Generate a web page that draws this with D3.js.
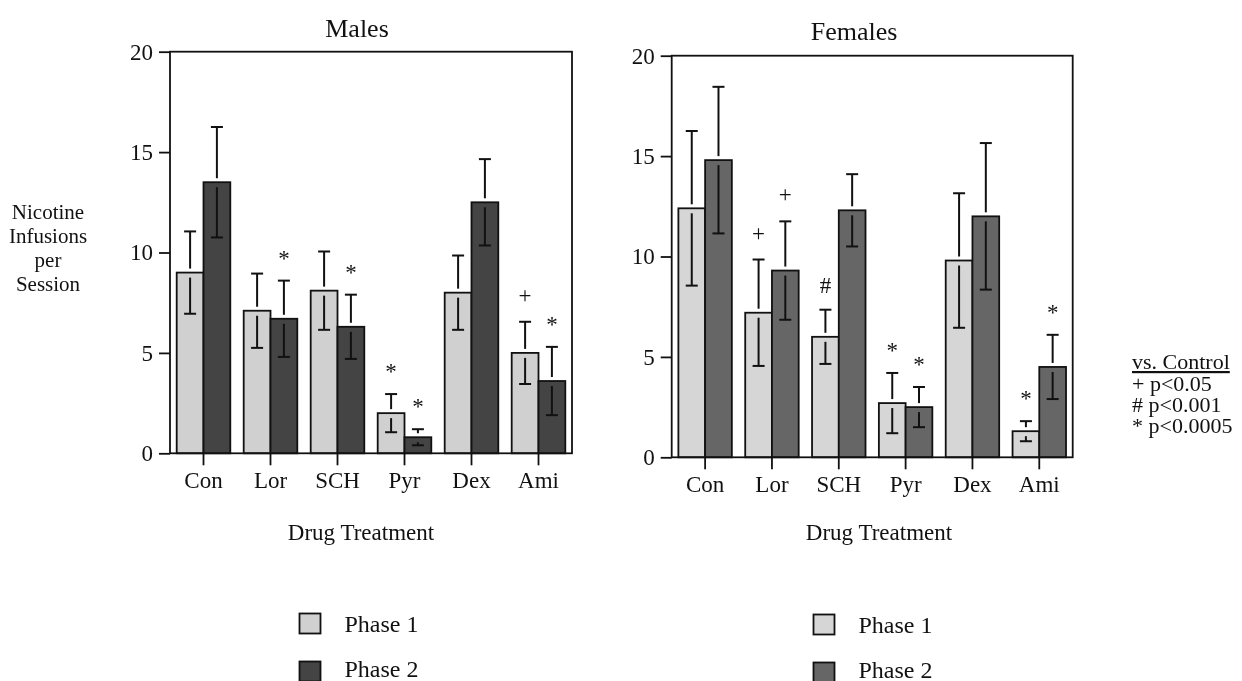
<!DOCTYPE html>
<html>
<head>
<meta charset="utf-8">
<script src="https://cdn.jsdelivr.net/npm/d3@7"></script>
<style>
  html, body { margin: 0; padding: 0; background: #fff; }
  svg { display: block; will-change: transform; }
  text { font-family: "Liberation Serif", "Times New Roman", serif; fill: #111; }
</style>
</head>
<body>
<svg id="chart" width="1242" height="681"></svg>
<script>
// Drug treatments shown on the x axis
const categories = ["Con", "Lor", "SCH", "Pyr", "Dex", "Ami"];
const phases = ["Phase 1", "Phase 2"];
const yTicks = [0, 5, 10, 15, 20];

// Males: mean nicotine infusions per session and SEM
const malesPhase1 = [9.0, 7.1, 8.1, 2.0, 8.0, 5.0];
const malesPhase1Err = [2.05, 1.85, 1.95, 0.95, 1.85, 1.55];
const malesPhase2 = [13.5, 6.7, 6.3, 0.8, 12.5, 3.6];
const malesPhase2Err = [2.75, 1.9, 1.6, 0.4, 2.15, 1.7];
const malesPhase1Sig = ["", "", "", "*", "", "+"];
const malesPhase2Sig = ["", "*", "*", "*", "", "*"];

// Females: mean nicotine infusions per session and SEM
const femalesPhase1 = [12.4, 7.2, 6.0, 2.7, 9.8, 1.3];
const femalesPhase1Err = [3.85, 2.65, 1.35, 1.5, 3.35, 0.5];
const femalesPhase2 = [14.8, 9.3, 12.3, 2.5, 12.0, 4.5];
const femalesPhase2Err = [3.65, 2.45, 1.8, 1.0, 3.65, 1.6];
const femalesPhase1Sig = ["", "+", "#", "*", "", "*"];
const femalesPhase2Sig = ["", "+", "", "*", "", "*"];

// Significance key
const keyTitle = "vs. Control";
const keyLines = ["+ p<0.05", "# p<0.001", "* p<0.0005"];

const svg = d3.select("#chart");
const FONT = 23;

function panel(opt) {
  const g = svg.append("g");
  const x = d3.scaleBand().domain(categories)
    .range([opt.left, opt.right]).paddingInner(0.2).paddingOuter(0.1);
  const xp = d3.scaleBand().domain(phases).range([0, x.bandwidth()]);
  const y = d3.scaleLinear().domain([0, 20]).range([opt.bottom, opt.top]);

  const rows = [];
  categories.forEach((c, i) => {
    rows.push({ c, phase: phases[0], v: opt.p1[i], e: opt.e1[i], s: opt.s1[i], fill: opt.c1 });
    rows.push({ c, phase: phases[1], v: opt.p2[i], e: opt.e2[i], s: opt.s2[i], fill: opt.c2 });
  });

  // bars
  g.selectAll("rect.bar").data(rows).join("rect")
    .attr("class", "bar")
    .attr("x", d => x(d.c) + xp(d.phase))
    .attr("y", d => y(d.v))
    .attr("width", xp.bandwidth())
    .attr("height", d => y(0) - y(d.v))
    .attr("fill", d => d.fill)
    .attr("stroke", "#111")
    .attr("stroke-width", 1.8);

  // error bars: stem broken where it crosses the bar top
  const eb = g.selectAll("g.err").data(rows).join("g").attr("class", "err")
    .attr("stroke", "#111").attr("stroke-width", 2);
  const cx = d => x(d.c) + xp(d.phase) + xp.bandwidth() / 2;
  const cap = 6;
  eb.append("line")
    .attr("x1", cx).attr("x2", cx)
    .attr("y1", d => y(d.v + d.e)).attr("y2", d => Math.max(y(d.v + d.e), y(d.v) - 4));
  eb.append("line")
    .attr("x1", d => cx(d) - cap).attr("x2", d => cx(d) + cap)
    .attr("y1", d => y(d.v + d.e)).attr("y2", d => y(d.v + d.e));
  eb.append("line")
    .attr("x1", cx).attr("x2", cx)
    .attr("y1", d => Math.min(y(d.v) + 5, y(Math.max(0, d.v - d.e))))
    .attr("y2", d => y(Math.max(0, d.v - d.e)));
  eb.append("line")
    .attr("x1", d => cx(d) - cap).attr("x2", d => cx(d) + cap)
    .attr("y1", d => y(Math.max(0, d.v - d.e))).attr("y2", d => y(Math.max(0, d.v - d.e)));

  // significance markers above the error bars
  const glyphDrop = { "*": 10, "+": 6, "#": 8 };
  g.selectAll("text.sig").data(rows.filter(d => d.s)).join("text")
    .attr("class", "sig")
    .attr("x", cx)
    .attr("y", d => y(d.v + d.e) - 25 + glyphDrop[d.s])
    .attr("text-anchor", "middle")
    .attr("font-size", FONT)
    .text(d => d.s);

  // frame
  g.append("rect")
    .attr("x", opt.left).attr("y", opt.top)
    .attr("width", opt.right - opt.left).attr("height", opt.bottom - opt.top)
    .attr("fill", "none").attr("stroke", "#111").attr("stroke-width", 1.8);

  // axes
  const ya = g.append("g").attr("transform", `translate(${opt.left},0)`)
    .call(d3.axisLeft(y).tickValues(yTicks).tickSize(11).tickPadding(6));
  const xa = g.append("g").attr("transform", `translate(0,${opt.bottom})`)
    .call(d3.axisBottom(x).tickSize(12).tickPadding(6));
  [ya, xa].forEach(a => {
    a.select(".domain").remove();
    a.selectAll("line").attr("stroke", "#111").attr("stroke-width", 1.8);
    a.selectAll("text").attr("font-size", FONT).attr("fill", "#111")
      .attr("font-family", '"Liberation Serif", "Times New Roman", serif');
  });

  // titles
  g.append("text").attr("x", opt.titleX).attr("y", opt.titleY)
    .attr("text-anchor", "middle").attr("font-size", 26).text(opt.title);
  g.append("text").attr("x", opt.xTitleX).attr("y", 540)
    .attr("text-anchor", "middle").attr("font-size", FONT).text("Drug Treatment");

  // legend
  const lg = g.append("g").attr("transform", `translate(${opt.legX},${opt.legY})`);
  phases.forEach((p, i) => {
    lg.append("rect").attr("x", 0).attr("y", i * 48).attr("width", 21).attr("height", 20)
      .attr("fill", i ? opt.c2 : opt.c1).attr("stroke", "#111").attr("stroke-width", 1.8);
    lg.append("text").attr("x", 45).attr("y", i * 45 + 18)
      .attr("font-size", 24).text(p);
  });
}

panel({
  title: "Males", titleX: 357, titleY: 37,
  left: 170, right: 572, top: 51.7, bottom: 453.3, xTitleX: 361,
  p1: malesPhase1, e1: malesPhase1Err, p2: malesPhase2, e2: malesPhase2Err,
  s1: malesPhase1Sig, s2: malesPhase2Sig,
  c1: "#d0d0d0", c2: "#444444", legX: 299.5, legY: 613.5
});

panel({
  title: "Females", titleX: 854, titleY: 40,
  left: 671.7, right: 1072.7, top: 55.7, bottom: 457.3, xTitleX: 879,
  p1: femalesPhase1, e1: femalesPhase1Err, p2: femalesPhase2, e2: femalesPhase2Err,
  s1: femalesPhase1Sig, s2: femalesPhase2Sig,
  c1: "#d6d6d6", c2: "#666666", legX: 813.5, legY: 614.5
});

// shared y-axis title
const yTitle = svg.append("text").attr("text-anchor", "middle").attr("font-size", 21);
["Nicotine", "Infusions", "per", "Session"].forEach((w, i) => {
  yTitle.append("tspan").attr("x", 48).attr("y", 219 + i * 24).text(w);
});

// significance key
const key = svg.append("g").attr("font-size", 22);
key.append("text").attr("x", 1132).attr("y", 369).text(keyTitle)
  .attr("text-decoration", "underline");
keyLines.forEach((t, i) => {
  key.append("text").attr("x", 1132).attr("y", 391 + i * 21).text(t);
});
</script>
</body>
</html>
